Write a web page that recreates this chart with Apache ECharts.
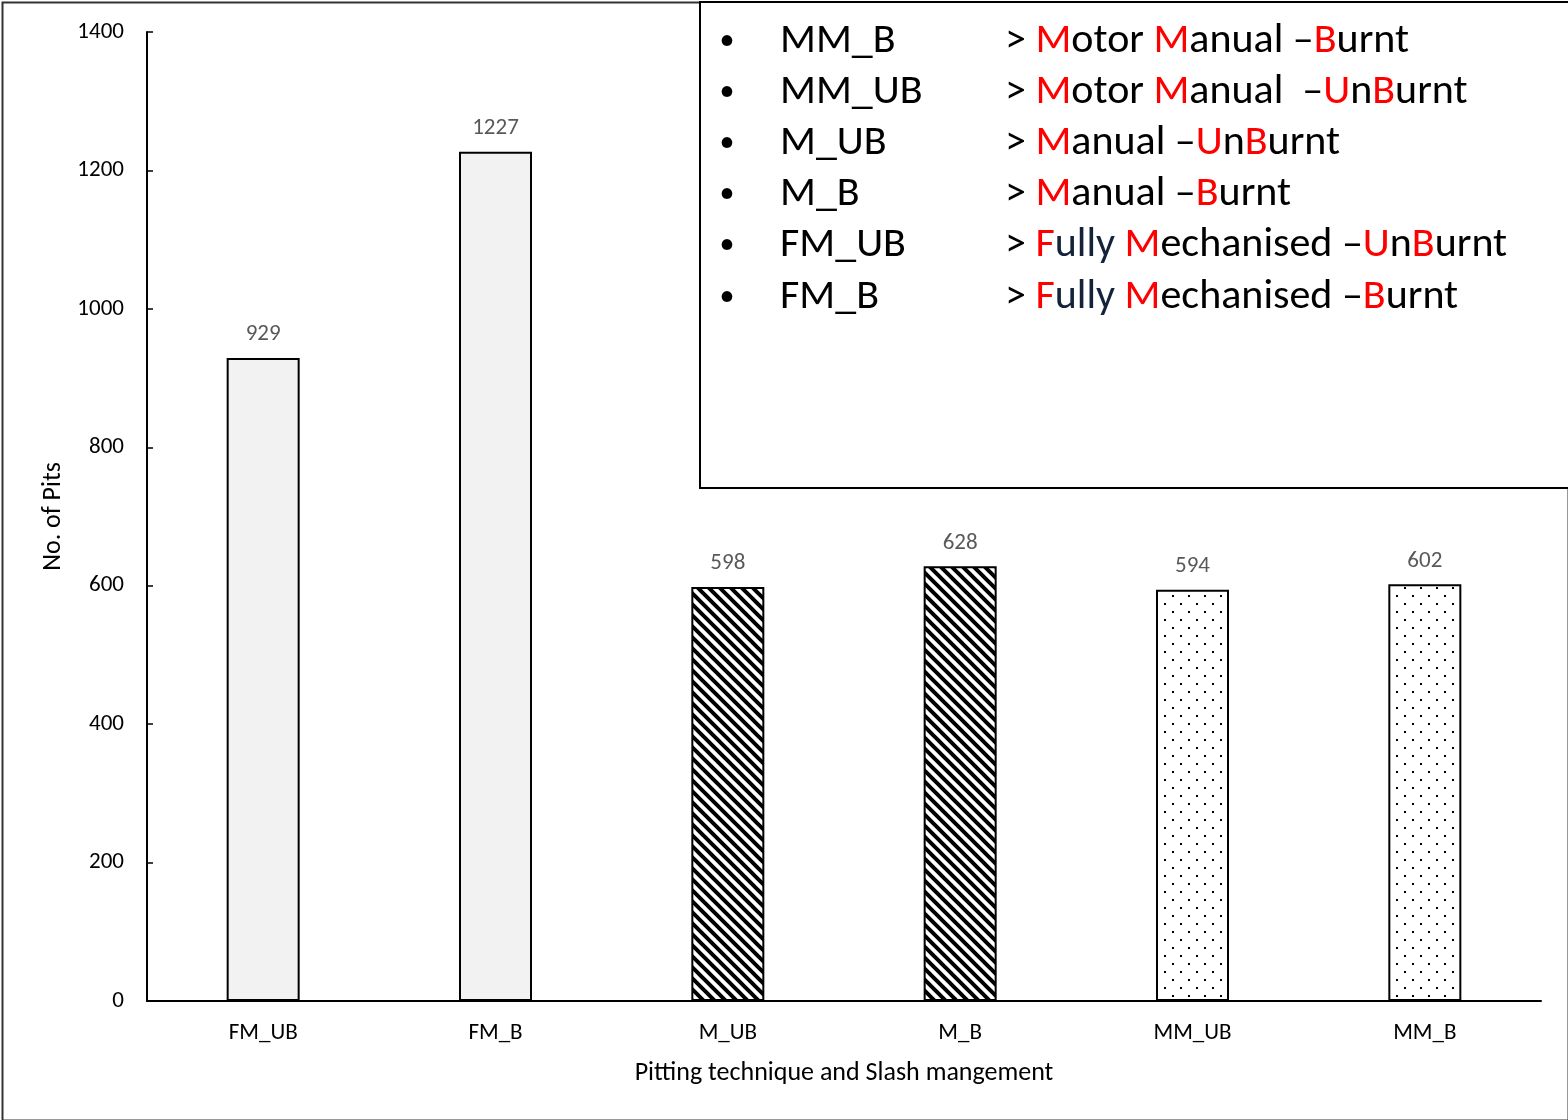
<!DOCTYPE html>
<html>
<head>
<meta charset="utf-8">
<script src="https://cdn.jsdelivr.net/npm/echarts@6/dist/echarts.min.js"></script>
<style>
  html, body { margin: 0; padding: 0; background: #fff; }
  #chart { width: 1568px; height: 1120px; }
</style>
</head>
<body>
<div id="chart"></div>
<script>
// Pit counts per pitting technique / slash management combination
const categories = ['FM_UB', 'FM_B', 'M_UB', 'M_B', 'MM_UB', 'MM_B'];
const pitCounts = [929, 1227, 598, 628, 594, 602];
const fillKinds = ['plain', 'plain', 'hatch', 'hatch', 'dots', 'dots'];
const yTicks = { min: 0, max: 1400, step: 200 };

// Abbreviation key shown in the upper-right box
const keyCodes = ['MM_B', 'MM_UB', 'M_UB', 'M_B', 'FM_UB', 'FM_B'];
const keyMeanings = [
  '{r|M}otor {r|M}anual –{r|B}urnt',
  '{r|M}otor {r|M}anual  –{r|U}n{r|B}urnt',
  '{r|M}anual –{r|U}n{r|B}urnt',
  '{r|M}anual –{r|B}urnt',
  '{r|F}{n|ully} {r|M}echanised –{r|U}n{r|B}urnt',
  '{r|F}{n|ully} {r|M}echanised –{r|B}urnt'
];

const FONT = "Carlito, Lato, 'Noto Sans', sans-serif";
const KEY_FONT = '42px ' + FONT;

function hatchPattern() {
  const s = 11;
  const c = document.createElement('canvas');
  c.width = s; c.height = s;
  const g = c.getContext('2d');
  g.fillStyle = '#fff';
  g.fillRect(0, 0, s, s);
  g.strokeStyle = '#000';
  g.lineWidth = 4;
  g.beginPath();
  g.moveTo(-s, -s); g.lineTo(2 * s, 2 * s);
  g.moveTo(-s, 0); g.lineTo(s, 2 * s);
  g.moveTo(0, -s); g.lineTo(2 * s, s);
  g.stroke();
  return c;
}

function dotPattern() {
  const s = 16;
  const c = document.createElement('canvas');
  c.width = s; c.height = s;
  const g = c.getContext('2d');
  g.fillStyle = '#fff';
  g.fillRect(0, 0, s, s);
  g.fillStyle = '#000';
  g.fillRect(4, 3, 2, 2);
  g.fillRect(12, 11, 2, 2);
  return c;
}

const fills = {
  plain: '#F2F2F2',
  hatch: { image: hatchPattern(), repeat: 'repeat' },
  dots: { image: dotPattern(), repeat: 'repeat' }
};

const barData = pitCounts.map((v, i) => ({
  value: v,
  itemStyle: { color: fills[fillKinds[i]], borderColor: '#000', borderWidth: 2 }
}));

// Key box text elements
const keyGraphics = [];
const rowY0 = 41, rowStep = 51.2;
keyCodes.forEach((code, i) => {
  const y = rowY0 + i * rowStep;
  keyGraphics.push({
    type: 'text', x: 727, y: y, z: 10,
    style: { text: '•', font: '30px ' + FONT, fill: '#000', align: 'center', verticalAlign: 'middle' }
  });
  keyGraphics.push({
    type: 'text', x: 780, y: y, z: 10,
    style: { text: code, font: KEY_FONT, fill: '#000', verticalAlign: 'middle' }
  });
  keyGraphics.push({
    type: 'text', x: 1005, y: y, z: 10,
    style: {
      text: '> ' + keyMeanings[i],
      font: KEY_FONT, fill: '#000', verticalAlign: 'middle',
      rich: {
        r: { fill: '#FF0000', font: KEY_FONT },
        n: { fill: '#13233A', font: KEY_FONT }
      }
    }
  });
});

const chart = echarts.init(document.getElementById('chart'), null, { renderer: 'canvas' });
chart.setOption({
  backgroundColor: '#fff',
  animation: false,
  grid: { left: 147, right: 27, top: 32, bottom: 119, containLabel: false },
  xAxis: {
    type: 'category',
    data: categories,
    name: 'Pitting technique and Slash mangement',
    nameLocation: 'middle',
    nameGap: 59,
    nameTextStyle: { fontFamily: FONT, fontSize: 26, color: '#000' },
    axisLine: { lineStyle: { color: '#000', width: 2 } },
    axisTick: { inside: true, length: 7, lineStyle: { color: '#000', width: 1.5 } },
    axisLabel: { fontFamily: FONT, fontSize: 23, color: '#000', margin: 21 }
  },
  yAxis: {
    type: 'value',
    min: yTicks.min, max: yTicks.max, interval: yTicks.step,
    name: 'No. of Pits',
    nameLocation: 'middle',
    nameGap: 81,
    nameTextStyle: { fontFamily: FONT, fontSize: 26, color: '#000' },
    axisLine: { show: true, lineStyle: { color: '#000', width: 2 } },
    axisTick: { show: true, inside: true, length: 6, lineStyle: { color: '#000', width: 1.5 } },
    splitLine: { show: false },
    axisLabel: {
      fontFamily: FONT, fontSize: 23, color: '#000', margin: 23,
      formatter: v => String(v)
    }
  },
  series: [{
    type: 'bar',
    data: barData,
    barWidth: 73,
    label: {
      show: true, position: 'top', distance: 12,
      fontFamily: FONT, fontSize: 23, color: '#595959'
    }
  }],
  graphic: [
    {
      type: 'rect', left: 0, top: 0, z: 0, silent: true,
      shape: { x: 1, y: 1, width: 1566, height: 1118 },
      style: { fill: 'none', stroke: '#333', lineWidth: 2 }
    },
    {
      type: 'rect', left: 699, top: 1, z: 5, silent: true,
      shape: { x: 0, y: 0, width: 880, height: 486 },
      style: { fill: '#fff', stroke: '#000', lineWidth: 2 }
    }
  ].concat(keyGraphics)
});
</script>
</body>
</html>
